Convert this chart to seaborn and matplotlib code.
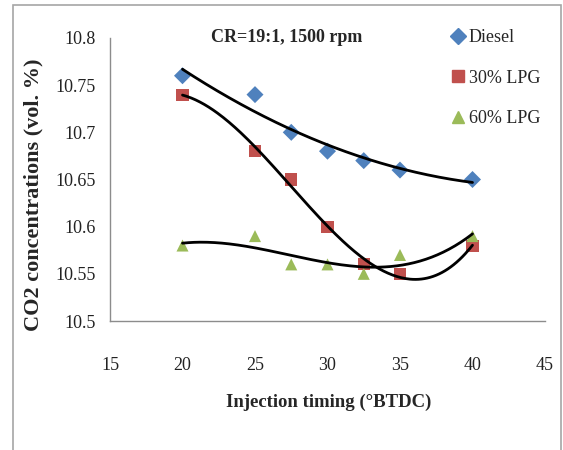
import numpy as np
import pandas as pd
import matplotlib
matplotlib.use("Agg")
import matplotlib.pyplot as plt
import seaborn as sns
from matplotlib.patches import Rectangle

timing = [20, 25, 27.5, 30, 32.5, 35, 40]
diesel = [10.76, 10.74, 10.70, 10.68, 10.67, 10.66, 10.65]
lpg30 = [10.74, 10.68, 10.65, 10.60, 10.56, 10.55, 10.58]
lpg60 = [10.58, 10.59, 10.56, 10.56, 10.55, 10.57, 10.59]
series_names = ["Diesel", "30% LPG", "60% LPG"]
trend_orders = [2, 3, 3]
colors = ["#4F81BD", "#C0504D", "#9BBB59"]
markers = ["D", "s", "^"]
x_ticks = [15, 20, 25, 30, 35, 40, 45]
y_ticks = [10.5, 10.55, 10.6, 10.65, 10.7, 10.75, 10.8]
y_ticklabels = ["10.5", "10.55", "10.6", "10.65", "10.7", "10.75", "10.8"]

sns.set_theme(style="white")
plt.rcParams["font.family"] = ["Liberation Serif", "DejaVu Serif"]

df = pd.DataFrame({
    "timing": timing * 3,
    "value": diesel + lpg30 + lpg60,
    "series": sum([[n] * len(timing) for n in series_names], []),
})

fig = plt.figure(figsize=(5.63, 4.5), dpi=100)
fig.patches.append(Rectangle((13 / 563, -0.01), (561 - 13) / 563, 1 - 5 / 450 + 0.01,
                             transform=fig.transFigure, fill=False,
                             edgecolor="#A6A6A6", linewidth=1.2))
ax = fig.add_axes([110 / 563, 1 - 321 / 450, (545 - 110) / 563, (321 - 38) / 450])

sns.scatterplot(data=df, x="timing", y="value", hue="series", style="series",
                palette=dict(zip(series_names, colors)),
                markers=dict(zip(series_names, markers)),
                s=75, edgecolor="none", linewidth=0, ax=ax, legend=False, zorder=3)

for vals, order in zip([diesel, lpg30, lpg60], trend_orders):
    coef = np.polyfit(timing, vals, order)
    xs = np.linspace(min(timing), max(timing), 200)
    ax.plot(xs, np.polyval(coef, xs), color="black", lw=2.0, zorder=4)

ax.set_xlim(15, 45)
ax.set_ylim(10.5, 10.8)
ax.set_xticks(x_ticks)
ax.set_yticks(y_ticks)
ax.set_yticklabels(y_ticklabels)
ax.tick_params(axis="both", labelsize=13, length=0, colors="#222222")
ax.tick_params(axis="y", pad=10)
ax.tick_params(axis="x", pad=26)
for side in ["top", "right"]:
    ax.spines[side].set_visible(False)
for side in ["left", "bottom"]:
    ax.spines[side].set_color("#8C8C8C")
    ax.spines[side].set_linewidth(1.0)

ax.set_xlabel("Injection timing (°BTDC)", fontsize=13.5, fontweight="bold", va="center")
ax.set_ylabel("CO2 concentrations (vol. %)", fontsize=16, fontweight="bold", va="center")
ax.xaxis.set_label_coords((329 - 110) / 435, -(402 - 321) / 283)
ax.yaxis.set_label_coords(-(110 - 33) / 435, (321 - 195) / 283)

ax.text((287 - 110) / 435, (321 - 37) / 283, "CR=19:1, 1500 rpm", transform=ax.transAxes,
        ha="center", va="center", fontsize=13, fontweight="bold")

handles = [plt.Line2D([], [], ls="none", marker=m, color=c, markersize=9 if m != "D" else 8)
           for m, c in zip(markers, colors)]
leg = ax.legend(handles, series_names, loc="upper left", bbox_to_anchor=(440 / 563, 1 - 22 / 450),
                bbox_transform=fig.transFigure, frameon=False, fontsize=13,
                handletextpad=0.0, handlelength=1.2, labelspacing=1.3, borderaxespad=0)

fig.savefig("out.png", dpi=100)
